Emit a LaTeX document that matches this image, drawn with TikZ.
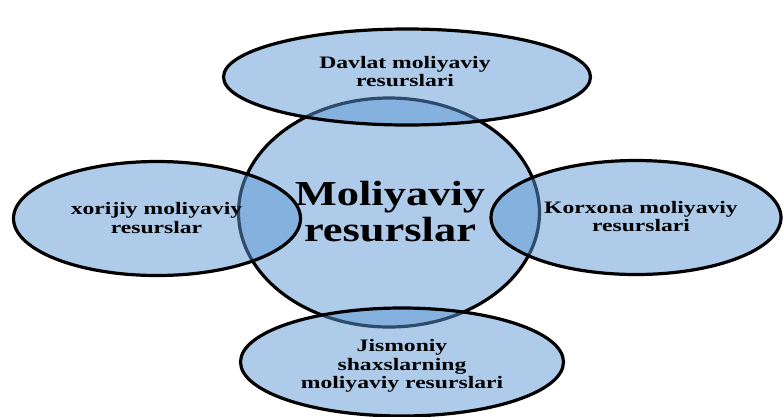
\documentclass[tikz,border=0pt]{standalone}
\usepackage{fontspec}
\setmainfont{Liberation Serif}
\newfontfamily\smallf[FakeStretch=1.35]{Liberation Serif}
\newfontfamily\bigf[FakeStretch=1.27]{Liberation Serif}
\usetikzlibrary{shapes.geometric}
\definecolor{fillc}{RGB}{93,151,213}
\tikzset{
  blob/.style={ellipse, draw=black, line width=3.2pt, fill=fillc, fill opacity=0.5, draw opacity=1, inner sep=0pt, outer sep=0pt},
  smalltxt/.style={font=\smallf\bfseries\fontsize{17.5}{18.5}\selectfont, align=center, inner sep=0pt, text=black, text opacity=1},
  bigtxt/.style={font=\bigf\bfseries\fontsize{35}{36}\selectfont, align=center, inner sep=0pt, text=black, text opacity=1}
}
\begin{document}
\begin{tikzpicture}[x=1pt,y=-1pt]
\useasboundingbox (0,0) rectangle (784,416);
\clip (0,0) rectangle (784,416);
% central ellipse first
\node[blob, minimum width=301pt, minimum height=229pt] (center) at (389,212.5) {};
% outer ellipses
\node[blob, minimum width=367pt, minimum height=96pt] (top) at (407,77) {};
\node[blob, minimum width=287pt, minimum height=114pt] (left) at (157,218.5) {};
\node[blob, minimum width=290pt, minimum height=114pt] (right) at (636,217.5) {};
\node[blob, minimum width=323pt, minimum height=108pt] (bottom) at (402,362) {};
% texts
\node[smalltxt] (ttop) at (405,71.5) {Davlat moliyaviy\\resurslari};
\node[smalltxt] (tleft) at (156.5,218) {xorijiy moliyaviy\\resurslar};
\node[smalltxt] (tright) at (641,216.5) {Korxona moliyaviy\\resurslari};
\node[smalltxt] (tbottom) at (402,366) {Jismoniy\\shaxslarning\\moliyaviy resurslari};
\node[bigtxt] (tcenter) at (390,212) {Moliyaviy\\resurslar};
\end{tikzpicture}
\end{document}
